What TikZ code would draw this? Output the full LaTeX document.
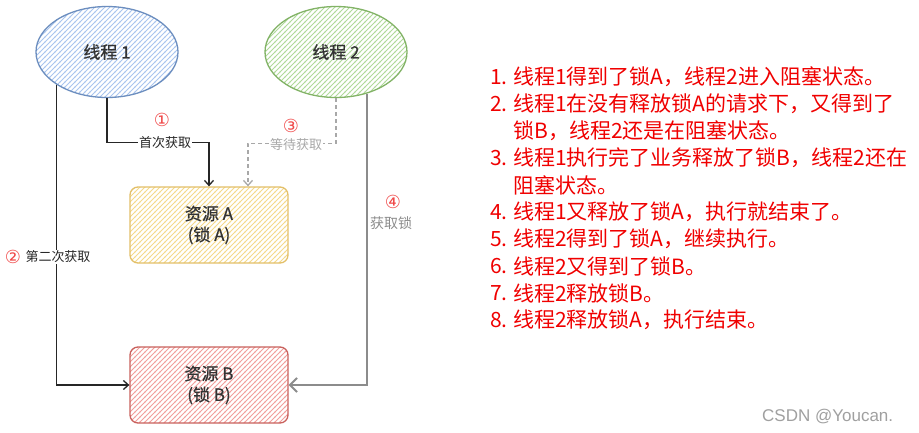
\documentclass[tikz,border=0pt]{standalone}
\usepackage{fontspec}
\setmainfont{Noto Sans CJK SC}
\newfontfamily\cjkmed[FakeBold=0.6]{Noto Sans CJK SC}
\newfontfamily\symf{DejaVu Sans}
\newfontfamily\latinf{Liberation Sans}
\usetikzlibrary{shapes.geometric,arrows.meta,patterns}
\pgfdeclarepatternformonly{myhatch}{\pgfqpoint{-1pt}{-1pt}}{\pgfqpoint{6pt}{6pt}}{\pgfqpoint{5pt}{5pt}}{%
  \pgfsetlinewidth{0.9pt}%
  \pgfpathmoveto{\pgfqpoint{-0.5pt}{-0.5pt}}%
  \pgfpathlineto{\pgfqpoint{5.5pt}{5.5pt}}%
  \pgfusepath{stroke}}
\definecolor{txt}{HTML}{333333}
\definecolor{blueS}{HTML}{6C8EBF}
\definecolor{blueH}{HTML}{A9C5EE}
\definecolor{greenS}{HTML}{82B366}
\definecolor{greenH}{HTML}{B0D99A}
\definecolor{yelS}{HTML}{E3C069}
\definecolor{yelH}{HTML}{F5D98A}
\definecolor{redS}{HTML}{C9615D}
\definecolor{redH}{HTML}{F29E9B}
\definecolor{numred}{HTML}{F04848}
\definecolor{listred}{HTML}{F00000}
\definecolor{grayL}{HTML}{8C8C8C}
\definecolor{grayD}{HTML}{A8A8A8}
\definecolor{wm}{HTML}{A0A0A0}
\begin{document}
\begin{tikzpicture}[x=1pt,y=-1pt,
  thread/.style={ellipse, minimum width=142pt, minimum height=91pt, inner sep=0pt,
    line width=1.3pt, text=txt, font=\cjkmed\fontsize{17}{20}\selectfont},
  res/.style={rectangle, rounded corners=8pt, minimum width=158pt, minimum height=76pt,
    line width=1.3pt, align=center, text=txt, font=\cjkmed\fontsize{17}{21}\selectfont},
  hatch/.style={pattern color=#1, pattern=myhatch},
  lbl/.style={fill=white, inner sep=1pt, font=\fontsize{13}{15}\selectfont},
  num/.style={text=numred, inner sep=0pt, font=\symf\fontsize{18}{20}\selectfont},
  conn/.style={line width=1.3pt, color=black!85},
  item/.style={anchor=west, inner sep=0pt, text=listred, font=\fontsize{21}{24}\selectfont}
]
\useasboundingbox (0,0) rectangle (919,432);
\fill[white] (0,0) rectangle (919,432);

% threads
\node[thread, draw=blueS, hatch=blueH] (t1) at (107,52) {线程 1};
\node[thread, draw=greenS, hatch=greenH] (t2) at (336,52) {线程 2};

% resources
\node[res, draw=yelS, hatch=yelH] (a) at (209,225) {资源 A\\(锁 A)};
\node[res, draw=redS, hatch=redH] (b) at (209,385) {资源 B\\(锁 B)};

% connectors
\draw[conn, -{Straight Barb[length=5pt,width=9pt]}] (t1.south) -- ++(0,44) -| (a.north);
\draw[line width=1.3pt, grayD, dash pattern=on 4pt off 3pt, -{Straight Barb[length=5pt,width=9pt]}]
  (t2.south) -- ++(0,45) -| ([xshift=39pt]a.north);
\draw[conn, -{Straight Barb[length=5pt,width=9pt]}] (t1.south west) |- (b.west);
\draw[line width=2pt, grayL, -{Straight Barb[length=7pt,width=14pt]}] (t2.-53) |- (b.east);

% labels
\node[lbl, text=black!85] (l1) at (165,143) {首次获取};
\node[lbl, text=grayD] (l3) at (296,145) {等待获取};
\node[lbl, text=black!85] (l2) at (58,257) {第二次获取};
\node[lbl, text=grayL, font=\fontsize{14}{16}\selectfont] (l4) at (391,223) {获取锁};
\node[num] (c1) at (162,120) {①};
\node[num] (c3) at (291,126) {③};
\node[num] (c2) at (13,257) {②};
\node[num] (c4) at (393,202) {④};

% list
\node[item] (n1) at (490,77) {1.};
\node[item] (i1) at (513,77) {线程1得到了锁A，线程2进入阻塞状态。};
\node[item] (n2) at (490,104) {2.};
\node[item] (i2) at (513,104) {线程1在没有释放锁A的请求下，又得到了};
\node[item] (i2b) at (513,131) {锁B，线程2还是在阻塞状态。};
\node[item] (n3) at (490,158) {3.};
\node[item] (i3) at (513,158) {线程1执行完了业务释放了锁B，线程2还在};
\node[item] (i3b) at (513,185) {阻塞状态。};
\node[item] (n4) at (490,212) {4.};
\node[item] (i4) at (513,212) {线程1又释放了锁A，执行就结束了。};
\node[item] (n5) at (490,239) {5.};
\node[item] (i5) at (513,239) {线程2得到了锁A，继续执行。};
\node[item] (n6) at (490,266) {6.};
\node[item] (i6) at (513,266) {线程2又得到了锁B。};
\node[item] (n7) at (490,293) {7.};
\node[item] (i7) at (513,293) {线程2释放锁B。};
\node[item] (n8) at (490,320) {8.};
\node[item] (i8) at (513,320) {线程2释放锁A，执行结束。};

% watermark
\node[anchor=west, inner sep=0pt, text=wm, font=\latinf\fontsize{17}{19}\selectfont] (wmk) at (762,417) {CSDN @Youcan.};
\end{tikzpicture}
\end{document}
